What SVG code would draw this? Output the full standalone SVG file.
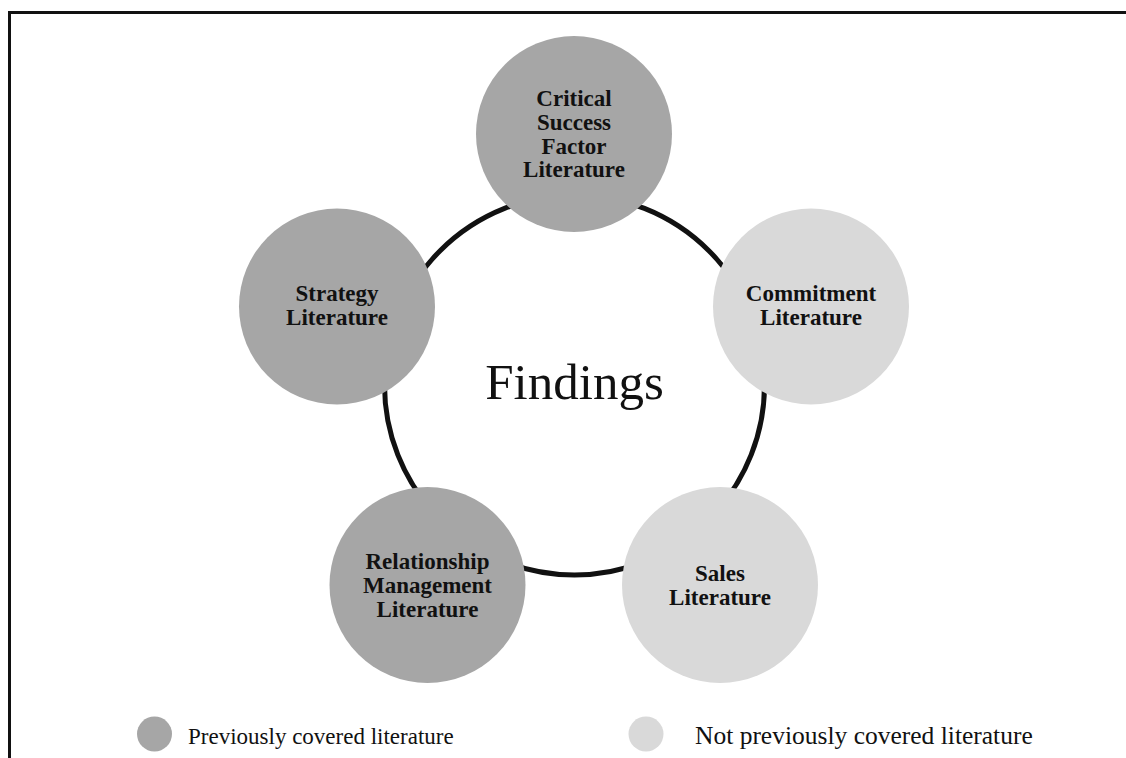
<svg xmlns="http://www.w3.org/2000/svg" width="1126" height="758" viewBox="0 0 1126 758">
<style>
.dark{fill:#a6a6a6}
.light{fill:#d9d9d9}
.lbl{font-family:"Liberation Serif","Times New Roman",serif;font-weight:bold;font-size:23px;fill:#111;text-anchor:middle}
.leg{font-family:"Liberation Serif","Times New Roman",serif;font-size:23px;fill:#111}
</style>
<rect width="1126" height="758" fill="#fff"/>
<g id="frame" fill="none" stroke="#111" stroke-width="3">
<path d="M9.5 758 V12.5 H1126"/>
</g>
<g id="connectors">
<circle cx="574.5" cy="385" r="190" fill="none" stroke="#111" stroke-width="5"/>
</g>
<g id="center">
<text x="574.5" y="399" font-family="Liberation Serif,'Times New Roman',serif" font-size="51" fill="#111" text-anchor="middle">Findings</text>
</g>
<g id="node-csf">
<circle class="dark" cx="574" cy="134" r="98"/>
<text class="lbl"><tspan x="574" y="106">Critical</tspan><tspan x="574" y="130">Success</tspan><tspan x="574" y="154">Factor</tspan><tspan x="574" y="177">Literature</tspan></text>
</g>
<g id="node-strategy">
<circle class="dark" cx="337" cy="306.5" r="98"/>
<text class="lbl"><tspan x="337" y="301">Strategy</tspan><tspan x="337" y="325">Literature</tspan></text>
</g>
<g id="node-commitment">
<circle class="light" cx="811" cy="306.5" r="98"/>
<text class="lbl"><tspan x="811" y="301">Commitment</tspan><tspan x="811" y="325">Literature</tspan></text>
</g>
<g id="node-relationship">
<circle class="dark" cx="427.5" cy="585" r="98"/>
<text class="lbl"><tspan x="427.5" y="569">Relationship</tspan><tspan x="427.5" y="593">Management</tspan><tspan x="427.5" y="617">Literature</tspan></text>
</g>
<g id="node-sales">
<circle class="light" cx="720" cy="585" r="98"/>
<text class="lbl"><tspan x="720" y="580.5">Sales</tspan><tspan x="720" y="604.5">Literature</tspan></text>
</g>
<g id="legend">
<circle class="dark" cx="154.5" cy="734" r="17.5"/>
<text class="leg" x="188" y="744">Previously covered literature</text>
<circle class="light" cx="646" cy="734" r="17.5"/>
<text class="leg" x="695" y="744" style="font-size:25.5px">Not previously covered literature</text>
</g>
</svg>
